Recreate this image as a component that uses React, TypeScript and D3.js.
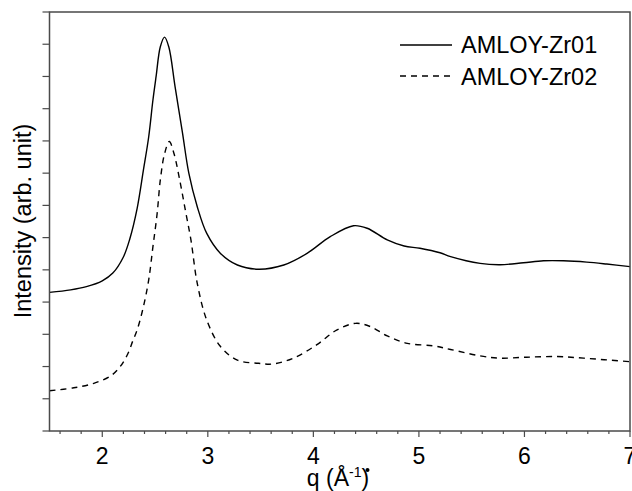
import React from "react";
import * as d3 from "d3";

const qZr01 = [1.5, 1.7, 1.85, 2.0, 2.1, 2.2, 2.26, 2.33, 2.39, 2.44, 2.48, 2.51, 2.55, 2.59, 2.63, 2.69, 2.76, 2.82, 2.9, 2.99, 3.12, 3.28, 3.48, 3.72, 3.94, 4.16, 4.38, 4.51, 4.7, 4.86, 5.01, 5.2, 5.3, 5.58, 5.77, 5.99, 6.18, 6.37, 6.59, 6.78, 7.0];
const iZr01 = [4.3, 4.38, 4.48, 4.66, 4.9, 5.4, 5.95, 6.9, 8.1, 9.13, 10.27, 11.0, 11.92, 12.22, 11.92, 10.68, 9.25, 8.0, 6.96, 6.13, 5.51, 5.15, 5.02, 5.15, 5.51, 6.03, 6.37, 6.29, 5.93, 5.74, 5.67, 5.53, 5.41, 5.2, 5.16, 5.22, 5.28, 5.28, 5.24, 5.18, 5.1];

const qZr02 = [1.5, 1.73, 1.92, 2.08, 2.17, 2.24, 2.29, 2.33, 2.39, 2.44, 2.48, 2.52, 2.55, 2.59, 2.635, 2.68, 2.74, 2.79, 2.84, 2.9, 2.99, 3.12, 3.28, 3.48, 3.62, 3.81, 4.03, 4.22, 4.4, 4.54, 4.7, 4.89, 5.14, 5.3, 5.58, 5.77, 6.02, 6.31, 6.56, 7.0];
const iZr02 = [1.25, 1.34, 1.48, 1.71, 2.0, 2.38, 2.8, 3.13, 3.86, 4.69, 5.72, 6.75, 7.79, 8.6, 8.98, 8.6, 7.68, 6.8, 5.93, 4.58, 3.44, 2.62, 2.2, 2.1, 2.08, 2.26, 2.67, 3.13, 3.34, 3.24, 2.95, 2.72, 2.64, 2.53, 2.33, 2.26, 2.29, 2.31, 2.26, 2.15];

const seriesNames = ["AMLOY-Zr01", "AMLOY-Zr02"];
const xTickValues = [2, 3, 4, 5, 6, 7];

const W = 632;
const H = 491;
const L = 49.5, R = 630, T = 12, B = 431;
const FONT = "'Liberation Sans', Arial, Helvetica, sans-serif";

export default function App() {
  const x = d3.scaleLinear().domain([1.5, 7]).range([L, R]);
  const y = d3.scaleLinear().domain([0, 13]).range([B, T]);
  const line = d3
    .line<[number, number]>()
    .x((d) => x(d[0]))
    .y((d) => y(d[1]))
    .curve(d3.curveCatmullRom.alpha(0.5));

  const d1 = line(qZr01.map((q, i) => [q, iZr01[i]] as [number, number])) || "";
  const d2 = line(qZr02.map((q, i) => [q, iZr02[i]] as [number, number])) || "";

  const yTicks = d3.range(0, 14);
  const xMinor = d3.range(1.6, 7.001, 0.2).filter((v) => Math.abs(v - Math.round(v)) > 1e-6);

  const axisColor = "#4a4a4a";

  return (
    <svg
      width={W}
      height={H}
      style={{ position: "absolute", left: 0, top: 0, background: "#fff" }}
      fontFamily={FONT}
    >
      <rect x={0} y={0} width={W} height={H} fill="#fff" />
      {/* curves */}
      <path d={d1} fill="none" stroke="#000" strokeWidth={1.4} />
      <path d={d2} fill="none" stroke="#000" strokeWidth={1.4} strokeDasharray="6,5" />

      {/* frame */}
      <rect x={L} y={T} width={R - L} height={B - T} fill="none" stroke={axisColor} strokeWidth={1.5} />

      {/* y ticks */}
      {yTicks.map((t) => (
        <line key={"y" + t} x1={L - 7} x2={L} y1={y(t)} y2={y(t)} stroke={axisColor} strokeWidth={1.2} />
      ))}
      {/* x ticks */}
      {xTickValues.map((t) => (
        <line key={"x" + t} x1={x(t)} x2={x(t)} y1={B} y2={B + 6} stroke={axisColor} strokeWidth={1.2} />
      ))}
      {xMinor.map((t, i) => (
        <line key={"xm" + i} x1={x(t)} x2={x(t)} y1={B} y2={B + 3} stroke={axisColor} strokeWidth={1.2} />
      ))}
      {xTickValues.map((t) => (
        <text key={"xl" + t} x={x(t)} y={464} textAnchor="middle" fontSize={23} fill="#000">
          {t}
        </text>
      ))}

      {/* axis titles */}
      <text x={338} y={486} textAnchor="middle" fontSize={23} fill="#000">
        q (Å
        <tspan dy={-9} fontSize={14}>-1</tspan>
        <tspan dy={9}>)</tspan>
      </text>
      <circle cx={367.5} cy={470} r={2} fill="#000" />
      <text
        transform={`translate(30.5, 221) rotate(-90)`}
        textAnchor="middle"
        fontSize={23.5}
        fill="#000"
      >
        Intensity (arb. unit)
      </text>

      {/* legend */}
      <line x1={400} x2={452} y1={45} y2={45} stroke="#000" strokeWidth={1.4} />
      <text x={461} y={53} fontSize={23.5} fill="#000">{seriesNames[0]}</text>
      <line x1={400} x2={455} y1={76} y2={76} stroke="#000" strokeWidth={1.4} strokeDasharray="6,5" />
      <text x={461} y={85} fontSize={23.5} fill="#000">{seriesNames[1]}</text>
    </svg>
  );
}
